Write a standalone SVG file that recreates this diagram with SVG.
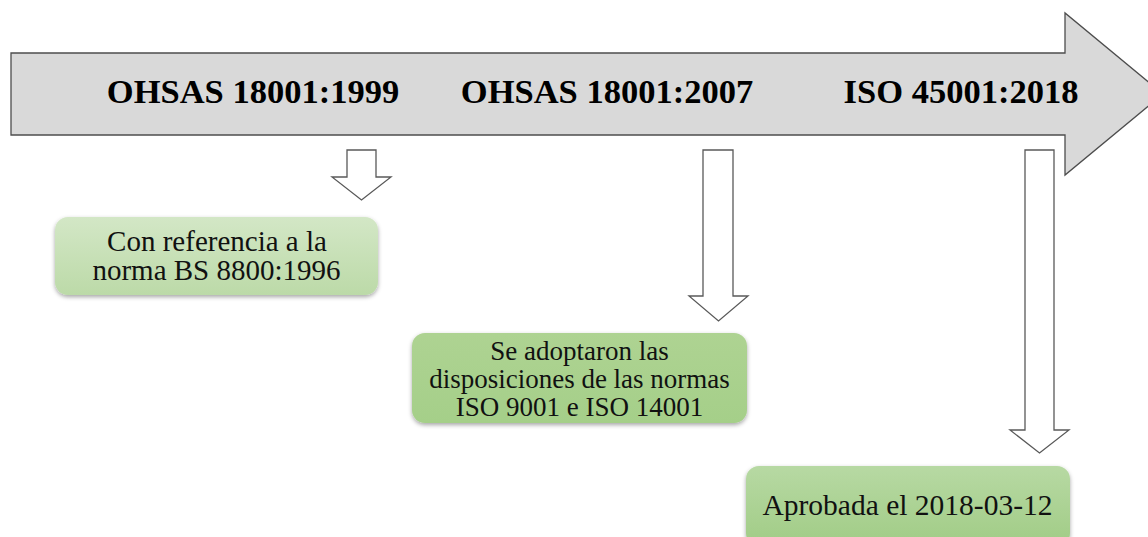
<svg xmlns="http://www.w3.org/2000/svg" width="1148" height="537" viewBox="0 0 1148 537">
  <style>
    .timeline { fill: #d9d9d9; stroke: #4d4d4d; stroke-width: 1.3; }
    .down { fill: #ffffff; stroke: #595959; stroke-width: 1.3; }
    .era { font-family: "Liberation Serif", "Times New Roman", serif; font-weight: bold; font-size: 34.5px; fill: #000000; text-anchor: middle; }
    .note { font-family: "Liberation Serif", "Times New Roman", serif; font-size: 27px; fill: #111111; text-anchor: middle; }
    .note-lg { font-size: 29px; }
    .note-xl { font-size: 29.5px; }
  </style>
  <defs>
    <linearGradient id="gLight" x1="0" y1="0" x2="0" y2="1">
      <stop offset="0" stop-color="#d3e7c6"/>
      <stop offset="1" stop-color="#bcdaa8"/>
    </linearGradient>
    <linearGradient id="gMid" x1="0" y1="0" x2="0" y2="1">
      <stop offset="0" stop-color="#aed392"/>
      <stop offset="1" stop-color="#a5cf89"/>
    </linearGradient>
    <linearGradient id="gLast" x1="0" y1="0" x2="0" y2="1">
      <stop offset="0" stop-color="#b7d9a3"/>
      <stop offset="1" stop-color="#a1cc86"/>
    </linearGradient>
    <filter id="shadow" x="-10%" y="-20%" width="120%" height="150%">
      <feDropShadow dx="0" dy="2" stdDeviation="2" flood-color="#000000" flood-opacity="0.35"/>
    </filter>
  </defs>

  <!-- Timeline arrow with the three standards -->
  <g id="timeline">
    <path class="timeline" d="M11,53 H1065 V13 L1163,94 L1065,175 V135 H11 Z"/>
    <text class="era" x="253" y="103">OHSAS 18001:1999</text>
    <text class="era" x="607" y="103">OHSAS 18001:2007</text>
    <text class="era" x="961" y="103">ISO 45001:2018</text>
  </g>

  <!-- Block arrows dropping from the timeline -->
  <g id="connectors">
    <path class="down" d="M347,150 H376 V177 H391 L361.5,200 L332,177 H347 Z"/>
    <path class="down" d="M703,150 H733 V296 H748 L718.5,321 L689,296 H703 Z"/>
    <path class="down" d="M1025,150 H1054 V430 H1069 L1039.5,453 L1010,430 H1025 Z"/>
  </g>

  <g id="note-1999">
    <rect x="55" y="217" width="323" height="78" rx="13" fill="url(#gLight)" filter="url(#shadow)"/>
    <text class="note note-lg" x="217" y="251">Con referencia a la</text>
    <text class="note note-lg" x="216.5" y="280">norma BS 8800:1996</text>
  </g>

  <g id="note-2007">
    <rect x="412" y="333" width="335" height="90" rx="13" fill="url(#gMid)" filter="url(#shadow)"/>
    <text class="note" x="579.5" y="360">Se adoptaron las</text>
    <text class="note" x="579.5" y="388">disposiciones de las normas</text>
    <text class="note" x="579.5" y="416">ISO 9001 e ISO 14001</text>
  </g>

  <g id="note-2018">
    <rect x="746" y="466" width="324" height="80" rx="13" fill="url(#gLast)" filter="url(#shadow)"/>
    <text class="note note-xl" x="907.5" y="515">Aprobada el 2018-03-12</text>
  </g>
</svg>
